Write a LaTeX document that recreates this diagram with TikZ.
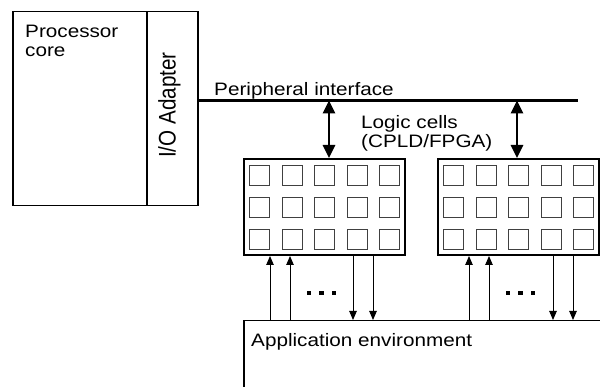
\documentclass[tikz,border=0pt]{standalone}
\usepackage{fontspec}
\setmainfont{Liberation Sans}[FakeStretch=1.15]
\newfontfamily\upfont{Liberation Sans}[FakeStretch=0.86]
\usetikzlibrary{arrows.meta}

\begin{document}
\begin{tikzpicture}[x=1pt,y=-1pt,
  txt/.style={inner sep=0pt,font=\fontsize{18}{19}\selectfont,align=left},
  frame/.style={draw,line width=1.5pt,inner sep=0pt},
  block/.style={draw,line width=2pt,inner sep=0pt,anchor=north west,minimum width=161pt,minimum height=96pt},
  cell/.style={draw=black!75,line width=1.2pt,inner sep=0pt,anchor=north west,minimum size=20pt},
  bigarrow/.style={line width=2.6pt,{Triangle[length=13pt,width=12pt]}-{Triangle[length=13pt,width=12pt]}},
  sig/.style={line width=0.9pt,-{Triangle[length=9pt,width=7.5pt]}},
  dot/.style={fill=black,inner sep=0pt,minimum size=4.5pt}]
\useasboundingbox (0,0) rectangle (600,387);

% processor with its I/O adapter
\node[frame,anchor=north west,minimum width=134pt,minimum height=194pt] (core) at (12,11) {};
\node[frame,anchor=north west,minimum width=51pt,minimum height=194pt] (io) at (146,11) {};
\node[txt,anchor=north west] (coretxt) at (25,24.5) {Processor\\core};
\node[inner sep=0pt,font=\upfont\fontsize{24}{26}\selectfont,rotate=90] (iotxt) at (169.5,105) {I/O Adapter};

% peripheral bus
\coordinate (busL) at (197,100.5);
\coordinate (busR) at (578,100.5);
\draw[line width=3pt] (busL) -- (busR);
\node[txt,anchor=base west] (bustxt) at (214,96) {Peripheral interface};

% logic cell blocks
\node[block] (blkL) at (243,158) {};
\node[block] (blkR) at (437,158) {};
\foreach \b in {L,R}{
  \foreach \i in {0,...,4}{
    \foreach \j in {0,...,2}{
      \node[cell] (cell\b\i\j) at ([xshift=6pt+32.5pt*\i,yshift=-7pt-32pt*\j]blk\b.north west) {};
    }
  }
}
\node[txt,anchor=north west] (logictxt) at (361,115) {Logic cells\\(CPLD/FPGA)};

% bus to block links
\coordinate (tapL) at (329,100.5);
\coordinate (tapR) at (517,100.5);
\draw[bigarrow] (tapL) -- (tapL |- blkL.north);
\draw[bigarrow] (tapR) -- (tapR |- blkR.north);

% application environment (open towards the right and bottom)
\node[frame,anchor=north west,minimum width=400pt,minimum height=120pt] (app) at (243,320) {};
\node[txt,anchor=north west] (apptxt) at (251,333) {Application environment};

% signal lines between environment and blocks
\foreach \x in {270,290,469,489}{
  \coordinate (in\x) at (\x,0);
  \draw[sig] (app.north -| in\x) -- (blkL.south -| in\x);
}
\foreach \x in {353,373,553,573}{
  \coordinate (out\x) at (\x,0);
  \draw[sig] (blkL.south -| out\x) -- (app.north -| out\x);
}

% ellipses
\foreach \x in {309,321.5,334,508,520.5,533}{
  \node[dot] (d\x) at (\x,293) {};
}
\end{tikzpicture}
\end{document}
